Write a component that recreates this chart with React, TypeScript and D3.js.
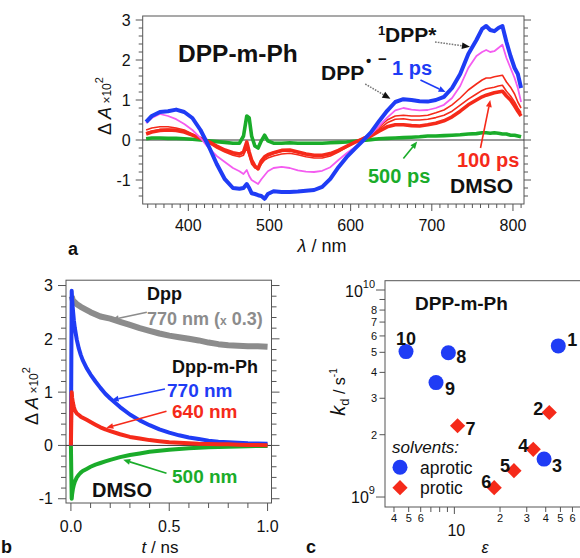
import React from 'react';
import * as d3 from 'd3';

const FONT = '"Liberation Sans", Arial, Helvetica, sans-serif';

// ---------- Panel a : transient spectra ----------
const wavelengths = [348, 355, 365, 375, 385, 395, 405, 415, 425, 435, 445, 455, 463, 468, 472, 475, 478, 482, 486, 490, 494, 498, 505, 515, 525, 535, 545, 555, 565, 575, 585, 595, 605, 615, 625, 635, 645, 655, 665, 675, 685, 695, 705, 715, 725, 735, 745, 755, 762, 767, 772, 777, 782, 787, 792, 797, 802, 806, 810];
const spec1ps = [0.45, 0.6, 0.7, 0.72, 0.76, 0.7, 0.55, 0.25, -0.15, -0.6, -0.98, -1.2, -1.22, -1.2, -1.1, -1.2, -1.33, -1.35, -1.38, -1.4, -1.47, -1.35, -1.28, -1.3, -1.3, -1.29, -1.27, -1.25, -1.17, -0.97, -0.68, -0.43, -0.22, -0.02, 0.19, 0.47, 0.73, 0.95, 1.02, 1.0, 0.97, 0.96, 1.0, 1.08, 1.3, 1.65, 2.15, 2.5, 2.78, 2.85, 2.75, 2.72, 2.8, 2.85, 2.45, 2.1, 1.8, 1.65, 1.3];
const spec3ps = [0.42, 0.55, 0.65, 0.6, 0.52, 0.4, 0.25, 0.05, -0.2, -0.4, -0.55, -0.7, -0.78, -0.85, -0.75, -0.9, -1.0, -1.05, -1.1, -0.98, -0.88, -0.78, -0.7, -0.67, -0.7, -0.76, -0.79, -0.8, -0.77, -0.68, -0.5, -0.33, -0.18, -0.03, 0.14, 0.35, 0.56, 0.74, 0.8, 0.76, 0.74, 0.75, 0.8, 0.88, 1.05, 1.35, 1.8, 2.1, 2.2, 2.25, 2.2, 2.22, 2.3, 2.38, 2.05, 1.8, 1.55, 1.3, 0.95];
const spec10ps = [0.25, 0.3, 0.33, 0.33, 0.3, 0.25, 0.15, 0.05, -0.07, -0.2, -0.3, -0.38, -0.42, -0.38, -0.2, -0.4, -0.6, -0.7, -0.72, -0.6, -0.5, -0.45, -0.4, -0.35, -0.33, -0.37, -0.42, -0.45, -0.45, -0.4, -0.3, -0.18, -0.06, 0.05, 0.16, 0.32, 0.5, 0.6, 0.62, 0.6, 0.6, 0.62, 0.68, 0.75, 0.88, 1.05, 1.25, 1.4, 1.5, 1.55, 1.55, 1.58, 1.6, 1.62, 1.45, 1.32, 1.15, 0.95, 0.8];
const spec30ps = [0.18, 0.22, 0.26, 0.27, 0.26, 0.22, 0.14, 0.05, -0.05, -0.17, -0.27, -0.34, -0.37, -0.32, -0.1, -0.35, -0.55, -0.65, -0.7, -0.55, -0.45, -0.4, -0.34, -0.28, -0.27, -0.32, -0.37, -0.4, -0.4, -0.36, -0.27, -0.16, -0.06, 0.04, 0.13, 0.27, 0.43, 0.52, 0.53, 0.5, 0.5, 0.52, 0.56, 0.62, 0.72, 0.87, 1.02, 1.15, 1.24, 1.28, 1.3, 1.32, 1.35, 1.37, 1.22, 1.1, 0.95, 0.8, 0.68];
const spec100ps = [0.15, 0.2, 0.24, 0.25, 0.24, 0.2, 0.12, 0.04, -0.04, -0.15, -0.25, -0.32, -0.35, -0.3, -0.05, -0.3, -0.5, -0.65, -0.72, -0.52, -0.42, -0.37, -0.32, -0.26, -0.25, -0.3, -0.35, -0.38, -0.38, -0.34, -0.26, -0.16, -0.06, 0.03, 0.1, 0.22, 0.33, 0.38, 0.38, 0.36, 0.35, 0.38, 0.42, 0.48, 0.58, 0.72, 0.88, 1.0, 1.08, 1.12, 1.15, 1.18, 1.2, 1.22, 1.1, 1.0, 0.85, 0.72, 0.6];
const spec500ps = [0.03, 0.05, 0.05, 0.04, 0.04, 0.03, 0.02, 0.0, -0.02, -0.04, -0.06, -0.08, -0.08, 0.1, 0.6, 0.55, 0.1, -0.15, -0.2, -0.02, 0.12, -0.02, -0.08, -0.08, -0.07, -0.08, -0.08, -0.08, -0.08, -0.07, -0.06, -0.05, -0.03, -0.01, 0.01, 0.03, 0.04, 0.05, 0.06, 0.07, 0.08, 0.1, 0.1, 0.11, 0.12, 0.13, 0.15, 0.16, 0.18, 0.18, 0.17, 0.18, 0.17, 0.15, 0.15, 0.12, 0.12, 0.1, 0.08];
const aXTicks = [400, 500, 600, 700, 800];
const aYTicks = [-1, 0, 1, 2, 3];

// ---------- Panel b : kinetics ----------
const times = [0, 0.004, 0.006, 0.01, 0.015, 0.02, 0.03, 0.04, 0.05, 0.06, 0.08, 0.1, 0.125, 0.15, 0.175, 0.2, 0.25, 0.3, 0.35, 0.4, 0.45, 0.5, 0.55, 0.6, 0.65, 0.7, 0.75, 0.8, 0.85, 0.9, 0.95, 1.0];
const kin770 = [0, 2.9, 2.75, 2.55, 2.35, 2.2, 1.98, 1.82, 1.7, 1.6, 1.45, 1.33, 1.2, 1.08, 0.97, 0.88, 0.72, 0.58, 0.47, 0.38, 0.3, 0.24, 0.19, 0.15, 0.12, 0.09, 0.07, 0.06, 0.05, 0.04, 0.035, 0.03];
const kin640 = [0, 1.0, 0.9, 0.8, 0.72, 0.66, 0.6, 0.57, 0.54, 0.52, 0.48, 0.44, 0.39, 0.34, 0.3, 0.27, 0.21, 0.16, 0.13, 0.1, 0.08, 0.06, 0.05, 0.04, 0.03, 0.025, 0.02, 0.02, 0.015, 0.01, 0.01, 0.005];
const kin500 = [0, -1.0, -0.92, -0.82, -0.74, -0.68, -0.6, -0.55, -0.51, -0.48, -0.44, -0.4, -0.36, -0.33, -0.3, -0.27, -0.22, -0.18, -0.15, -0.12, -0.1, -0.08, -0.065, -0.055, -0.045, -0.035, -0.03, -0.025, -0.02, -0.015, -0.01, -0.01];
const timesDpp = [0.004, 0.01, 0.03, 0.05, 0.1, 0.15, 0.2, 0.25, 0.3, 0.35, 0.4, 0.45, 0.5, 0.55, 0.6, 0.65, 0.7, 0.75, 0.8, 0.85, 0.9, 0.95, 1.0];
const kinDpp770 = [2.8, 2.72, 2.65, 2.6, 2.5, 2.42, 2.38, 2.32, 2.26, 2.2, 2.15, 2.1, 2.06, 2.03, 2.0, 1.97, 1.93, 1.9, 1.88, 1.87, 1.86, 1.86, 1.85];
const bXTicks = [0, 0.5, 1.0];
const bYTicks = [-1, 0, 1, 2, 3];

// ---------- Panel c : kd vs epsilon ----------
const solventIds = ['1', '2', '3', '4', '5', '6', '7', '8', '9', '10'];
const epsilon = [48.4, 42.2, 39, 33.1, 24.7, 18.3, 10.5, 9.13, 7.57, 4.8];
const kd = [5.37e9, 2.56e9, 1.525e9, 1.7e9, 1.34e9, 1.11e9, 2.21e9, 4.98e9, 3.57e9, 5.04e9];
const solventType = ['aprotic', 'protic', 'aprotic', 'protic', 'protic', 'protic', 'protic', 'aprotic', 'aprotic', 'aprotic'];
const cXMinor = [4, 5, 6, 7, 8, 9, 20, 30, 40, 50, 60, 70, 80];
const cXMinorLabeled = [4, 5, 6, 20, 30, 40, 50, 60];
const cYMinor = [2e9, 3e9, 4e9, 5e9, 6e9, 7e9, 8e9, 9e9];
const cYMinorLabeled = [2e9, 3e9, 4e9, 5e9, 6e9, 7e9, 8e9];

// label placement (style)
const idLabelOffset: Record<string, [number, number, string]> = {
  '1': [9, -6, 'start'], '2': [-6, -4, 'end'], '3': [8, 6, 'start'], '4': [-5, -4, 'end'],
  '5': [-4, -5, 'end'], '6': [-3, -6, 'end'], '7': [8, 3, 'start'], '8': [8, 4, 'start'],
  '9': [9, 6, 'start'], '10': [0, -13, 'middle'],
};

const BLUE = '#1f3cf5';
const RED = '#f52a1a';
const MAGENTA = '#f45cf0';
const GREEN = '#1aac2a';
const GRAY = '#8c8c8c';
const FRAME = '#555';
const TXT = '#111';

function Arrow({ x1, y1, x2, y2, color, width = 1.5, dashed = false, head = 8 }: any) {
  const ang = Math.atan2(y2 - y1, x2 - x1);
  const hw = head * 0.42;
  const bx = x2 - head * Math.cos(ang);
  const by = y2 - head * Math.sin(ang);
  const p = [
    [x2, y2],
    [bx + hw * Math.sin(ang), by - hw * Math.cos(ang)],
    [bx - hw * Math.sin(ang), by + hw * Math.cos(ang)],
  ];
  return (
    <g>
      <line x1={x1} y1={y1} x2={bx} y2={by} stroke={dashed ? '#777' : color} strokeWidth={width} strokeDasharray={dashed ? '1.6 1.2' : undefined} />
      <polygon points={p.map((q) => q.join(',')).join(' ')} fill={color} />
    </g>
  );
}

function minorRange(lo: number, hi: number, step: number, majors: number[]) {
  const out: number[] = [];
  const n = Math.round((hi - lo) / step);
  for (let i = 0; i <= n; i++) {
    const v = +(lo + i * step).toFixed(6);
    if (!majors.some((m) => Math.abs(m - v) < 1e-6)) out.push(v);
  }
  return out;
}

function PanelA() {
  const x = d3.scaleLinear().domain([343.8, 813.6]).range([142.7, 524]);
  const y = d3.scaleLinear().domain([-1.6, 3.1]).range([204, 16]);
  const [x0, x1] = x.range();
  const [yb, yt] = y.range();
  const line = d3.line<number>().x((_, i) => x(wavelengths[i])).y((d) => y(d));
  const yMinor = minorRange(-1.4, 3.0, 0.2, aYTicks);
  const xMinor = minorRange(350, 810, 10, aXTicks);
  return (
    <g>
      <rect x={x0} y={yt} width={x1 - x0} height={yb - yt} fill="none" stroke={FRAME} strokeWidth={1} />
      <line x1={x0} x2={x1} y1={y(0)} y2={y(0)} stroke="#333" strokeWidth={1} />
      {aYTicks.map((t) => (
        <g key={'ay' + t}>
          <line x1={x0 - 7} x2={x0} y1={y(t)} y2={y(t)} stroke={FRAME} />
          <line x1={x1} x2={x1 + 7} y1={y(t)} y2={y(t)} stroke={FRAME} />
          <text x={x0 - 12} y={y(t)} dy="0.36em" textAnchor="end" fontSize={16} fill={TXT}>{t}</text>
        </g>
      ))}
      {yMinor.map((t) => (
        <g key={'aym' + t}>
          <line x1={x0 - 4} x2={x0} y1={y(t)} y2={y(t)} stroke={FRAME} />
          <line x1={x1} x2={x1 + 4} y1={y(t)} y2={y(t)} stroke={FRAME} />
        </g>
      ))}
      {aXTicks.map((t) => (
        <g key={'ax' + t}>
          <line x1={x(t)} x2={x(t)} y1={yb} y2={yb + 7} stroke={FRAME} />
          <text x={x(t)} y={231} textAnchor="middle" fontSize={16} fill={TXT}>{t}</text>
        </g>
      ))}
      {xMinor.map((t) => (
        <line key={'axm' + t} x1={x(t)} x2={x(t)} y1={yb} y2={yb + 4} stroke={FRAME} />
      ))}
      <path d={line(spec500ps) || ''} fill="none" stroke={GREEN} strokeWidth={3.6} strokeLinejoin="round" />
      <path d={line(spec100ps) || ''} fill="none" stroke={RED} strokeWidth={3.6} strokeLinejoin="round" />
      <path d={line(spec30ps) || ''} fill="none" stroke={RED} strokeWidth={1.6} strokeLinejoin="round" />
      <path d={line(spec10ps) || ''} fill="none" stroke={RED} strokeWidth={1.6} strokeLinejoin="round" />
      <path d={line(spec3ps) || ''} fill="none" stroke={MAGENTA} strokeWidth={1.8} strokeLinejoin="round" />
      <path d={line(spec1ps) || ''} fill="none" stroke={BLUE} strokeWidth={4} strokeLinejoin="round" />
      {/* axis titles */}
      <text transform={`translate(111,106) rotate(-90)`} textAnchor="middle" fill={TXT}>
        <tspan fontSize={18}>Δ </tspan>
        <tspan fontSize={18} fontStyle="italic">A</tspan>
        <tspan fontSize={12}> ×10</tspan>
        <tspan fontSize={11} dy={-8}>2</tspan>
      </text>
      <text x={322} y={252} textAnchor="middle" fontSize={18} fill={TXT}>
        <tspan fontStyle="italic">λ</tspan> / nm
      </text>
      <text x={68} y={255} fontSize={18} fontWeight="bold" fill={TXT}>a</text>
      {/* annotations */}
      <text x={178} y={62} fontSize={24.5} fontWeight="bold" fill={TXT}>DPP-m-Ph</text>
      <text x={378} y={35} fontSize={13} fontWeight="bold" fill={TXT}>1</text>
      <text x={385} y={42} fontSize={21} fontWeight="bold" fill={TXT}>DPP*</text>
      <Arrow x1={x(704)} y1={y(2.45)} x2={x(747)} y2={y(2.33)} color="#111" dashed head={8} />
      <text x={321} y={80} fontSize={21} fontWeight="bold" fill={TXT}>DPP</text>
      <text x={366} y={66} fontSize={15} fontWeight="bold" fill={TXT}>•</text>
      <text x={378} y={64} fontSize={15} fontWeight="bold" fill={TXT}>−</text>
      <Arrow x1={x(618)} y1={y(1.4)} x2={x(649)} y2={y(1.03)} color="#111" dashed head={8} />
      <text x={392} y={75} fontSize={20} fontWeight="bold" fill={BLUE}>1 ps</text>
      <Arrow x1={x(686)} y1={y(1.5)} x2={x(717)} y2={y(1.2)} color={BLUE} width={1.6} head={7} />
      <text x={457} y={167} fontSize={20} fontWeight="bold" fill={RED}>100 ps</text>
      <Arrow x1={x(760)} y1={y(-0.2)} x2={x(772)} y2={y(1.0)} color={RED} width={1.6} head={7} />
      <text x={368} y={183} fontSize={20} fontWeight="bold" fill={GREEN}>500 ps</text>
      <Arrow x1={x(665)} y1={y(-0.46)} x2={x(682)} y2={y(-0.04)} color={GREEN} width={1.6} head={7} />
      <text x={450} y={193} fontSize={21} fontWeight="bold" fill={TXT}>DMSO</text>
    </g>
  );
}

function PanelB() {
  const x = d3.scaleLinear().domain([-0.025, 1.02]).range([66, 271.5]);
  const y = d3.scaleLinear().domain([-1.08, 3.1]).range([503, 280.2]);
  const [x0, x1] = x.range();
  const [yb, yt] = y.range();
  const line = (ts: number[]) => d3.line<number>().x((_, i) => x(ts[i])).y((d) => y(d));
  const yMinor = minorRange(-1.0, 3.0, 0.2, bYTicks);
  const xMinor = minorRange(0, 1.0, 0.1, bXTicks);
  return (
    <g>
      <rect x={x0} y={yt} width={x1 - x0} height={yb - yt} fill="none" stroke={FRAME} strokeWidth={1} />
      <line x1={x0} x2={x1} y1={y(0)} y2={y(0)} stroke="#333" strokeWidth={1} />
      {bYTicks.map((t) => (
        <g key={'by' + t}>
          <line x1={x0 - 8} x2={x0} y1={y(t)} y2={y(t)} stroke={FRAME} />
          <line x1={x1} x2={x1 + 8} y1={y(t)} y2={y(t)} stroke={FRAME} />
          <text x={x0 - 13} y={y(t)} dy="0.36em" textAnchor="end" fontSize={16} fill={TXT}>{t}</text>
        </g>
      ))}
      {yMinor.map((t) => (
        <g key={'bym' + t}>
          <line x1={x0 - 5} x2={x0} y1={y(t)} y2={y(t)} stroke={FRAME} />
          <line x1={x1} x2={x1 + 5} y1={y(t)} y2={y(t)} stroke={FRAME} />
        </g>
      ))}
      {bXTicks.map((t) => (
        <g key={'bx' + t}>
          <line x1={x(t)} x2={x(t)} y1={yb} y2={yb + 8} stroke={FRAME} />
          <text x={x(t)} y={532} textAnchor="middle" fontSize={16} fill={TXT}>{t.toFixed(1)}</text>
        </g>
      ))}
      {xMinor.map((t) => (
        <line key={'bxm' + t} x1={x(t)} x2={x(t)} y1={yb} y2={yb + 5} stroke={FRAME} />
      ))}
      <path d={line(timesDpp)(kinDpp770) || ''} fill="none" stroke={GRAY} strokeWidth={6} strokeLinejoin="round" />
      <path d={line(times)(kin500) || ''} fill="none" stroke={GREEN} strokeWidth={4} strokeLinejoin="round" />
      <path d={line(times)(kin770) || ''} fill="none" stroke={BLUE} strokeWidth={4} strokeLinejoin="round" />
      <path d={line(times)(kin640) || ''} fill="none" stroke={RED} strokeWidth={4} strokeLinejoin="round" />
      <text transform={`translate(38,396) rotate(-90)`} textAnchor="middle" fill={TXT}>
        <tspan fontSize={18}>Δ </tspan>
        <tspan fontSize={18} fontStyle="italic">A</tspan>
        <tspan fontSize={12}> ×10</tspan>
        <tspan fontSize={11} dy={-8}>2</tspan>
      </text>
      <text x={160} y={553} textAnchor="middle" fontSize={17} fill={TXT}>
        <tspan fontStyle="italic">t</tspan> / ns
      </text>
      <text x={1} y={553} fontSize={18} fontWeight="bold" fill={TXT}>b</text>
      <text x={147} y={300} fontSize={18} fontWeight="bold" fill={TXT}>Dpp</text>
      <text x={147} y={325} fontSize={18} fontWeight="bold" fill={GRAY}>
        770 nm (<tspan fontSize={12}>x</tspan> 0.3)
      </text>
      <Arrow x1={x(0.386)} y1={y(2.5)} x2={x(0.208)} y2={y(2.36)} color={GRAY} width={1.6} head={7} />
      <text x={172} y={373} fontSize={18} fontWeight="bold" fill={TXT}>Dpp-m-Ph</text>
      <text x={167} y={397} fontSize={19} fontWeight="bold" fill={BLUE}>770 nm</text>
      <Arrow x1={x(0.478)} y1={y(1.06)} x2={x(0.207)} y2={y(0.85)} color={BLUE} width={1.6} head={7} />
      <text x={172} y={418} fontSize={19} fontWeight="bold" fill={RED}>640 nm</text>
      <Arrow x1={x(0.486)} y1={y(0.64)} x2={x(0.18)} y2={y(0.33)} color={RED} width={1.6} head={7} />
      <text x={172} y={483} fontSize={19} fontWeight="bold" fill={GREEN}>500 nm</text>
      <Arrow x1={x(0.486)} y1={y(-0.52)} x2={x(0.266)} y2={y(-0.27)} color={GREEN} width={1.6} head={7} />
      <text x={92} y={497} fontSize={20} fontWeight="bold" fill={TXT}>DMSO</text>
    </g>
  );
}

function PanelC() {
  const x = d3.scaleLog().domain([3.49, 80]).range([385, 591.4]);
  const y = d3.scaleLog().domain([8.95e8, 1.109e10]).range([507, 280.7]);
  const [x0, x1] = x.range();
  const [yb, yt] = y.range();
  const diamond = (cx: number, cy: number, r: number) => `M${cx},${cy - r}L${cx + r},${cy}L${cx},${cy + r}L${cx - r},${cy}Z`;
  return (
    <g>
      <rect x={x0} y={yt} width={x1 - x0} height={yb - yt} fill="none" stroke={FRAME} strokeWidth={1} />
      {[1e9, 1e10].map((t) => (
        <line key={'cy' + t} x1={x0 - 9} x2={x0} y1={y(t)} y2={y(t)} stroke={FRAME} />
      ))}
      {cYMinor.map((t) => (
        <line key={'cym' + t} x1={x0 - 5.5} x2={x0} y1={y(t)} y2={y(t)} stroke={FRAME} />
      ))}
      {cYMinorLabeled.map((t) => (
        <text key={'cyl' + t} x={x0 - 8} y={y(t)} dy="0.36em" textAnchor="end" fontSize={11} fill={TXT}>{Math.round(t / 1e9)}</text>
      ))}
      <text x={345} y={297} fontSize={16} fill={TXT}>10<tspan fontSize={11} dy={-9}>10</tspan></text>
      <text x={351} y={503} fontSize={16} fill={TXT}>10<tspan fontSize={11} dy={-9}>9</tspan></text>
      <line x1={x(10)} x2={x(10)} y1={yb} y2={yb + 7} stroke={FRAME} />
      {cXMinor.map((t) => (
        <line key={'cxm' + t} x1={x(t)} x2={x(t)} y1={yb} y2={yb + 5} stroke={FRAME} />
      ))}
      {cXMinorLabeled.map((t) => (
        <text key={'cxl' + t} x={x(t)} y={522} textAnchor="middle" fontSize={11} fill={TXT}>{t < 10 ? t : t / 10}</text>
      ))}
      <text x={x(10) + 2} y={536} textAnchor="middle" fontSize={16} fill={TXT}>10</text>
      <text x={485} y={553} textAnchor="middle" fontSize={16} fontStyle="italic" fill={TXT}>ε</text>
      <text transform={`translate(345,392) rotate(-90)`} textAnchor="middle" fill={TXT}>
        <tspan fontSize={20} fontStyle="italic">k</tspan>
        <tspan fontSize={13} dy={4}>d</tspan>
        <tspan fontSize={16} dy={-4}>  / s</tspan>
        <tspan fontSize={10} dy={-8}>-1</tspan>
      </text>
      <text x={306} y={553} fontSize={18} fontWeight="bold" fill={TXT}>c</text>
      <text x={415} y={310} fontSize={19} fontWeight="bold" fill={TXT}>DPP-m-Ph</text>
      {solventIds.map((id, i) => {
        const cx = x(epsilon[i]);
        const cy = y(kd[i]);
        const [dx, dy, anchor] = idLabelOffset[id];
        return (
          <g key={'pt' + id}>
            {solventType[i] === 'aprotic' ? (
              <circle cx={cx} cy={cy} r={7.5} fill={BLUE} />
            ) : (
              <path d={diamond(cx, cy, 7.6)} fill={RED} />
            )}
            <text x={cx + dx} y={cy + dy} dy="0.36em" textAnchor={anchor} fontSize={18} fontWeight="bold" fill={TXT}>{id}</text>
          </g>
        );
      })}
      <text x={392} y={453} fontSize={17} fontStyle="italic" fill={TXT}>solvents:</text>
      <circle cx={400} cy={467.3} r={7.5} fill={BLUE} />
      <text x={420} y={473.5} fontSize={17.5} fill={TXT}>aprotic</text>
      <path d={diamond(400, 487.7, 7.6)} fill={RED} />
      <text x={420} y={493.5} fontSize={17.5} fill={TXT}>protic</text>
    </g>
  );
}

export default function App() {
  return (
    <svg width={580} height={558} style={{ position: 'absolute', left: 0, top: 0, background: '#fff' }} fontFamily={FONT}>
      <rect x={0} y={0} width={580} height={558} fill="#fff" />
      <PanelA />
      <PanelB />
      <PanelC />
    </svg>
  );
}
